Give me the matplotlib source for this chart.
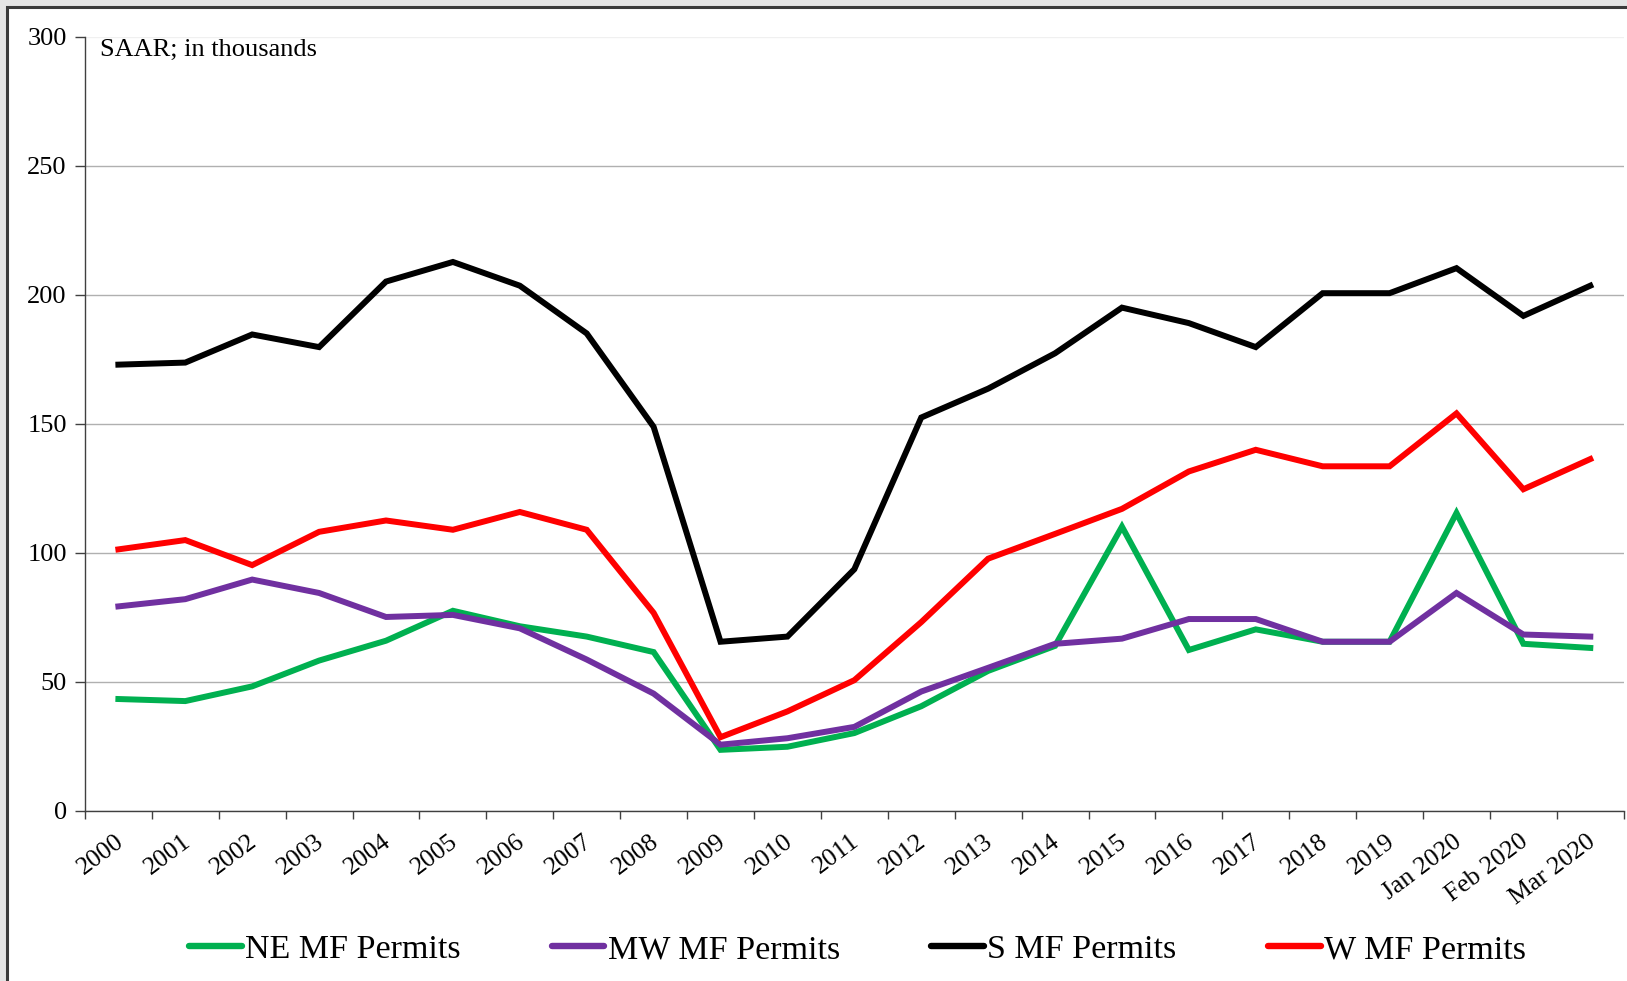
import matplotlib
matplotlib.use("Agg")
import matplotlib.pyplot as plt
import matplotlib.transforms as mtransforms
import numpy as np
from matplotlib.patches import Rectangle

plt.rcParams['font.family'] = ['Liberation Serif', 'DejaVu Serif']

# Data (SAAR; in thousands)
periods = ['2000', '2001', '2002', '2003', '2004', '2005', '2006', '2007',
           '2008', '2009', '2010', '2011', '2012', '2013', '2014', '2015',
           '2016', '2017', '2018', '2019', 'Jan 2020', 'Feb 2020', 'Mar 2020']

ne_permits = [43.4, 42.6, 48.3, 58.3, 66.0, 77.6, 71.6, 67.6, 61.6, 23.7, 24.9, 30.2,
              40.6, 54.3, 64.0, 110.2, 62.4, 70.4, 65.6, 65.6, 115.5, 64.8, 63.2]
mw_permits = [79.3, 82.1, 89.7, 84.5, 75.2, 76.0, 70.8, 58.7, 45.5, 25.7, 28.2, 32.6,
              46.3, 55.5, 64.8, 66.8, 74.4, 74.4, 65.6, 65.6, 84.5, 68.4, 67.6]
s_permits = [173.0, 173.8, 184.7, 179.8, 205.2, 212.8, 203.6, 185.1, 148.9, 65.6, 67.6, 93.7,
             152.5, 163.7, 177.4, 195.1, 189.1, 179.8, 200.7, 200.7, 210.4, 191.9, 203.6]
w_permits = [101.4, 105.0, 95.3, 108.2, 112.6, 109.0, 115.9, 109.0, 76.8, 28.6, 38.6, 50.7,
             73.2, 97.8, 107.4, 117.1, 131.6, 140.0, 133.6, 133.6, 154.1, 124.7, 136.4]

series = [
    ('NE MF Permits', ne_permits, '#00B050'),
    ('MW MF Permits', mw_permits, '#7030A0'),
    ('S MF Permits', s_permits, '#000000'),
    ('W MF Permits', w_permits, '#FF0000'),
]

fig = plt.figure(figsize=(16.27, 9.81), dpi=100)
fig.patch.set_facecolor('#e4e4e4')

# white chart frame, cut off at right/bottom
frame = Rectangle((0.0043, -0.05), 1.1, 0.9929 + 0.05, transform=fig.transFigure,
                  facecolor='white', edgecolor='#3a3a3a', linewidth=2.2, zorder=-10)
fig.patches.append(frame)

ax = fig.add_axes([0.0522, 0.1733, 0.9458, 0.789])
ax.set_facecolor('none')

x = np.arange(len(periods))
for label, vals, color in series:
    ax.plot(x, vals, color=color, linewidth=4.3, label=label, solid_joinstyle='miter')

ax.set_xlim(-0.5, len(periods) - 0.5)
ax.set_ylim(0, 300)
ax.set_yticks(np.arange(0, 301, 50))
ax.yaxis.grid(True, color='#b0b0b0', linewidth=1.0)
ax.get_ygridlines()[-1].set_color('#f0f0f0')
ax.set_axisbelow(True)

ax.set_xticks(x)
ax.set_xticklabels(periods, rotation=37, ha='right', va='top', rotation_mode='anchor')
ax.set_xticks(np.arange(-0.5, len(periods)), minor=True)
ax.tick_params(axis='x', which='major', length=0, pad=14, labelsize=18.5)
ax.tick_params(axis='x', which='minor', length=6, width=1, color='#404040', direction='out')
ax.tick_params(axis='y', length=7, width=1, color='#404040', labelsize=19, pad=6)

shift = mtransforms.ScaledTranslation(-0.04, 0, fig.dpi_scale_trans)
for lbl in ax.get_xticklabels():
    lbl.set_transform(lbl.get_transform() + shift)

for side in ['top', 'right']:
    ax.spines[side].set_visible(False)
for side in ['left', 'bottom']:
    ax.spines[side].set_color('#404040')
    ax.spines[side].set_linewidth(1.0)

ax.text(0.0095, 0.997, 'SAAR; in thousands', transform=ax.transAxes,
        ha='left', va='top', fontsize=19)

leg = fig.legend(loc='center', bbox_to_anchor=(0.527, 0.032), ncol=4, frameon=False,
                 fontsize=24.5, handlelength=1.55, handletextpad=0.1, columnspacing=2.68)
for line in leg.get_lines():
    line.set_linewidth(4.6)
    line.set_solid_capstyle('round')

fig.savefig('out.png', dpi=100, facecolor=fig.get_facecolor())
